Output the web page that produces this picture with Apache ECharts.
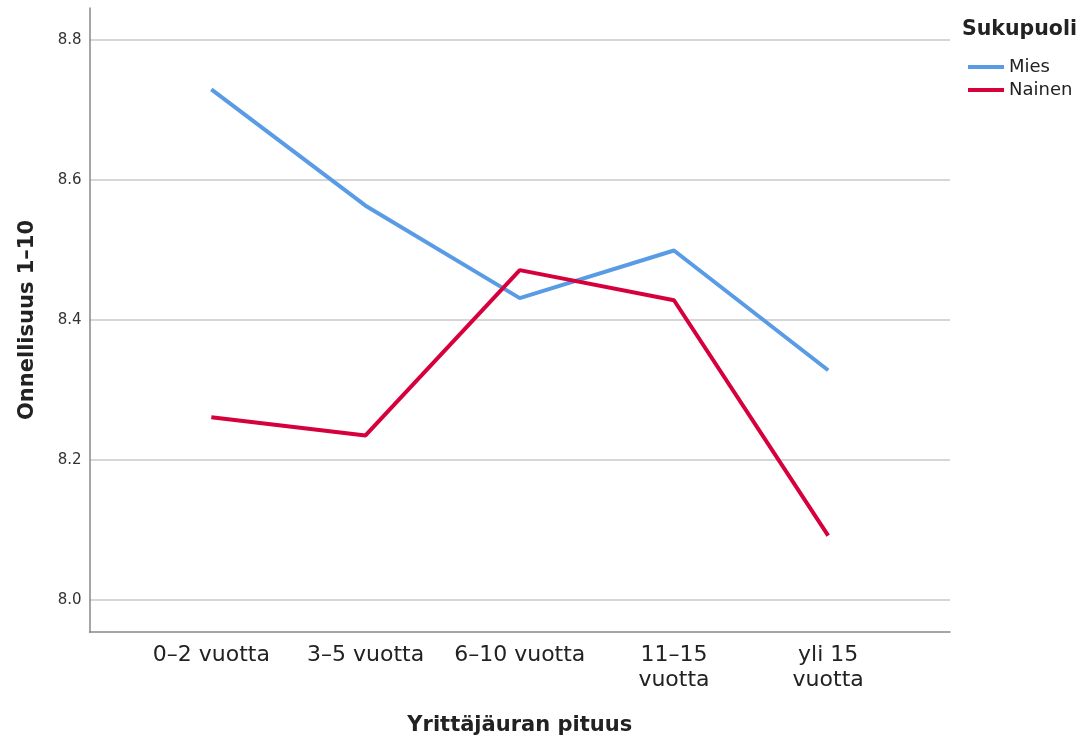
<!DOCTYPE html>
<html>
<head>
<meta charset="utf-8">
<script src="https://cdn.jsdelivr.net/npm/echarts@6/dist/echarts.min.js"></script>
<style>
  html, body { margin: 0; padding: 0; background: #fff; }
  #chart { width: 1085px; height: 742px; }
</style>
</head>
<body>
<div id="chart"></div>
<script>
  // categories on the x axis
  var categories = ['0–2 vuotta', '3–5 vuotta', '6–10 vuotta', '11–15\nvuotta', 'yli 15\nvuotta'];
  var categoryPos = [0, 1, 2, 3, 4];
  // mean happiness per group
  var miesValues = [8.729, 8.563, 8.431, 8.499, 8.328];
  var nainenValues = [8.261, 8.235, 8.471, 8.428, 8.092];
  var yTicks = [8.0, 8.2, 8.4, 8.6, 8.8];

  var font = 'DejaVu Sans';
  var blue = '#5a9be6';
  var red = '#d5003c';

  function pairs(vals) {
    return vals.map(function (v, i) { return [categoryPos[i], v]; });
  }

  var myChart = echarts.init(document.getElementById('chart'));
  var option = {
    animation: false,
    backgroundColor: '#fff',
    textStyle: { fontFamily: font },
    grid: [
      // outer frame: axis lines + category labels
      { left: 89.5, right: 135, top: 8, bottom: 110 },
      // inner: 8.0 .. 8.8 with gridlines and the data
      { left: 89.5, right: 135, top: 39.7, bottom: 142 }
    ],
    xAxis: [
      {
        gridIndex: 0, type: 'value', min: -0.79, max: 4.79,
        axisLine: { show: true, onZero: false, lineStyle: { color: '#888', width: 1.5 } },
        axisTick: { show: false },
        splitLine: { show: false },
        axisLabel: {
          customValues: categoryPos,
          formatter: function (v) { return categories[Math.round(v)]; },
          fontSize: 22, color: '#222', margin: 11, lineHeight: 25
        },
        name: 'Yrittäjäuran pituus',
        nameLocation: 'middle',
        nameGap: 83,
        nameTextStyle: { fontSize: 21, fontWeight: 'bold', color: '#222' }
      },
      {
        gridIndex: 1, type: 'value', min: -0.79, max: 4.79, show: false
      }
    ],
    yAxis: [
      {
        gridIndex: 0, type: 'value', min: 7.9547, max: 8.845,
        axisLine: { show: true, onZero: false, lineStyle: { color: '#888', width: 1.5 } },
        axisTick: { show: false },
        axisLabel: { show: false },
        splitLine: { show: false },
        name: 'Onnellisuus 1–10',
        nameLocation: 'middle',
        nameGap: 51,
        nameTextStyle: { fontSize: 21, fontWeight: 'bold', color: '#222' }
      },
      {
        gridIndex: 1, type: 'value', min: 8.0, max: 8.8, interval: 0.2,
        axisLine: { show: false },
        axisTick: { show: false },
        axisLabel: {
          fontSize: 15, color: '#333', margin: 8,
          formatter: function (v) { return v.toFixed(1); }
        },
        splitLine: { show: true, lineStyle: { color: '#c8c8c8', width: 1.5 } }
      }
    ],
    legend: {
      orient: 'vertical',
      left: 963,
      top: 53,
      icon: 'rect',
      itemWidth: 36,
      itemHeight: 4,
      itemGap: 5,
      textStyle: { fontSize: 18, color: '#222', fontFamily: font },
      data: ['Mies', 'Nainen']
    },
    graphic: [
      {
        type: 'text', left: 962, top: 19,
        style: { text: 'Sukupuoli', font: 'bold 20.5px "DejaVu Sans"', fill: '#222' }
      }
    ],
    series: [
      {
        name: 'Mies', type: 'line', xAxisIndex: 1, yAxisIndex: 1,
        data: pairs(miesValues), showSymbol: false, symbol: 'none',
        lineStyle: { color: blue, width: 4 }, itemStyle: { color: blue }
      },
      {
        name: 'Nainen', type: 'line', xAxisIndex: 1, yAxisIndex: 1,
        data: pairs(nainenValues), showSymbol: false, symbol: 'none',
        lineStyle: { color: red, width: 4 }, itemStyle: { color: red }
      }
    ]
  };
  myChart.setOption(option);
</script>
</body>
</html>
